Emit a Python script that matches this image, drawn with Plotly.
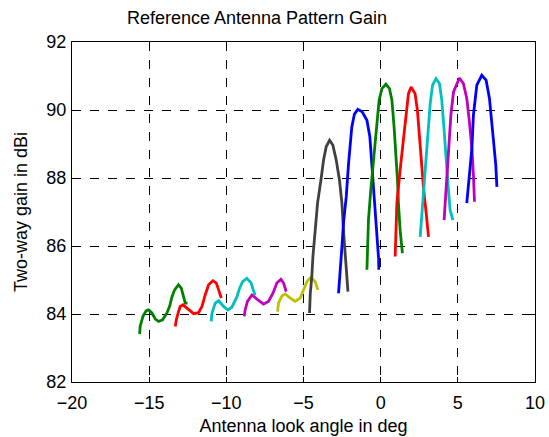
import plotly.graph_objects as go

# Look angle (deg) and two-way gain (dBi) for each beam
beam1_x = [-15.62, -15.58, -15.40, -15.19, -15.04, -14.82, -14.60, -14.39, -14.13, -13.85, -13.68, -13.52, -13.35, -13.10, -12.92, -12.77, -12.66, -12.51]
beam1_y = [83.41, 83.65, 83.93, 84.10, 84.12, 84.03, 83.85, 83.78, 83.83, 84.03, 84.22, 84.51, 84.71, 84.86, 84.76, 84.51, 84.32, 84.32]

beam2_x = [-13.31, -13.24, -13.10, -12.99, -12.81, -12.55, -12.12, -11.80, -11.58, -11.37, -11.15, -10.87, -10.65, -10.50, -10.39, -10.33]
beam2_y = [83.63, 83.83, 84.07, 84.22, 84.27, 84.17, 84.01, 84.04, 84.22, 84.56, 84.86, 84.98, 84.91, 84.71, 84.51, 84.47]

beam3_x = [-10.98, -10.93, -10.72, -10.50, -10.18, -9.90, -9.64, -9.31, -9.14, -8.95, -8.67, -8.40, -8.25, -8.13]
beam3_y = [83.78, 84.03, 84.32, 84.39, 84.22, 84.12, 84.20, 84.51, 84.76, 84.95, 85.05, 84.92, 84.70, 84.55]

beam4_x = [-8.84, -8.78, -8.63, -8.34, -8.02, -7.59, -7.27, -6.98, -6.72, -6.46, -6.29, -6.18, -6.12]
beam4_y = [83.93, 84.12, 84.37, 84.56, 84.44, 84.29, 84.37, 84.61, 84.92, 85.02, 84.91, 84.76, 84.66]

beam5_x = [-6.68, -6.62, -6.40, -6.19, -5.86, -5.54, -5.21, -5.00, -4.78, -4.52, -4.24, -4.07]
beam5_y = [84.07, 84.32, 84.53, 84.59, 84.47, 84.37, 84.47, 84.71, 84.95, 85.08, 84.95, 84.71]

beam6_x = [-4.61, -4.56, -4.46, -4.39, -4.24, -4.09, -3.87, -3.70, -3.53, -3.31, -3.10, -2.88, -2.67, -2.51, -2.41, -2.30, -2.19, -2.12]
beam6_y = [84.03, 84.61, 85.10, 85.69, 86.47, 87.26, 87.94, 88.53, 88.92, 89.11, 88.97, 88.53, 87.94, 87.26, 86.47, 85.69, 85.10, 84.66]

beam7_x = [-2.73, -2.62, -2.51, -2.41, -2.23, -2.08, -1.97, -1.87, -1.70, -1.48, -1.20, -0.89, -0.70, -0.58, -0.47, -0.37, -0.27, -0.18, -0.13, -0.12]
beam7_y = [84.61, 85.20, 85.98, 86.67, 87.45, 88.43, 89.11, 89.50, 89.88, 90.02, 89.95, 89.70, 89.21, 88.43, 87.94, 87.26, 86.67, 86.08, 85.60, 85.30]

beam8_x = [-0.89, -0.79, -0.64, -0.47, -0.29, -0.10, 0.08, 0.34, 0.57, 0.73, 0.87, 1.00, 1.09, 1.15, 1.26, 1.41]
beam8_y = [85.30, 86.77, 87.65, 88.53, 89.50, 90.29, 90.63, 90.76, 90.63, 90.29, 89.50, 88.72, 87.94, 87.26, 86.47, 85.79]

beam9_x = [0.94, 1.05, 1.26, 1.48, 1.65, 1.80, 1.97, 2.23, 2.38, 2.51, 2.67, 2.77, 2.95, 3.10]
beam9_y = [85.69, 87.26, 88.23, 89.21, 89.99, 90.48, 90.68, 90.48, 89.99, 89.21, 88.43, 87.74, 86.96, 86.27]

beam10_x = [2.56, 2.73, 2.88, 3.03, 3.21, 3.36, 3.58, 3.81, 3.96, 4.11, 4.24, 4.39, 4.50, 4.68]
beam10_y = [86.27, 87.26, 88.23, 89.21, 90.19, 90.73, 90.92, 90.78, 90.29, 89.41, 88.43, 87.65, 87.06, 86.76]

beam11_x = [4.11, 4.18, 4.29, 4.39, 4.55, 4.72, 5.10, 5.36, 5.58, 5.75, 5.91, 6.01, 6.08]
beam11_y = [86.76, 87.21, 88.09, 88.87, 89.85, 90.53, 90.94, 90.78, 90.34, 89.65, 88.87, 88.09, 87.30]

beam12_x = [5.58, 5.75, 5.91, 6.01, 6.23, 6.55, 6.83, 7.05, 7.20, 7.35, 7.46, 7.53]
beam12_y = [87.26, 88.09, 88.87, 89.85, 90.73, 91.02, 90.88, 90.34, 89.55, 88.87, 88.38, 87.74]

beams = [
    (beam1_x, beam1_y, "#008000"),
    (beam2_x, beam2_y, "#ff0000"),
    (beam3_x, beam3_y, "#00bfbf"),
    (beam4_x, beam4_y, "#bf00bf"),
    (beam5_x, beam5_y, "#bfbf00"),
    (beam6_x, beam6_y, "#404040"),
    (beam7_x, beam7_y, "#0000ff"),
    (beam8_x, beam8_y, "#008000"),
    (beam9_x, beam9_y, "#ff0000"),
    (beam10_x, beam10_y, "#00bfbf"),
    (beam11_x, beam11_y, "#bf00bf"),
    (beam12_x, beam12_y, "#0000ff"),
]

x_ticks = [-20, -15, -10, -5, 0, 5, 10]
y_ticks = [82, 84, 86, 88, 90, 92]

fig = go.Figure()
for bx, by, col in beams:
    fig.add_trace(go.Scatter(x=bx, y=by, mode="lines",
                             line=dict(color=col, width=2.8),
                             showlegend=False, hoverinfo="skip"))

font = dict(family="Liberation Sans, Arial, sans-serif", size=18, color="black")
axis_common = dict(showline=True, linecolor="black", linewidth=1, mirror="ticks",
                   ticks="inside", ticklen=5, tickcolor="black",
                   showgrid=True, gridcolor="black", gridwidth=1, griddash="dash",
                   zeroline=False, tickfont=font, automargin=False)

fig.update_layout(
    width=549, height=437,
    margin=dict(l=72, r=14, t=42, b=55),
    paper_bgcolor="white", plot_bgcolor="white",
    font=font,
    title=dict(text="Reference Antenna Pattern Gain", x=257 / 549, xref="container",
               xanchor="center", y=1 - 18 / 437, yanchor="middle",
               yref="container", font=font),
    xaxis=dict(range=[-20, 10], tickvals=x_ticks, ticklabelstandoff=4,
               title=dict(text="Antenna look angle in deg", font=font, standoff=7),
               **axis_common),
    yaxis=dict(range=[82, 92], tickvals=y_ticks, ticklabelstandoff=1,
               title=dict(text="Two-way gain in dBi", font=font, standoff=14),
               **axis_common),
)

fig.write_html("out.html")
